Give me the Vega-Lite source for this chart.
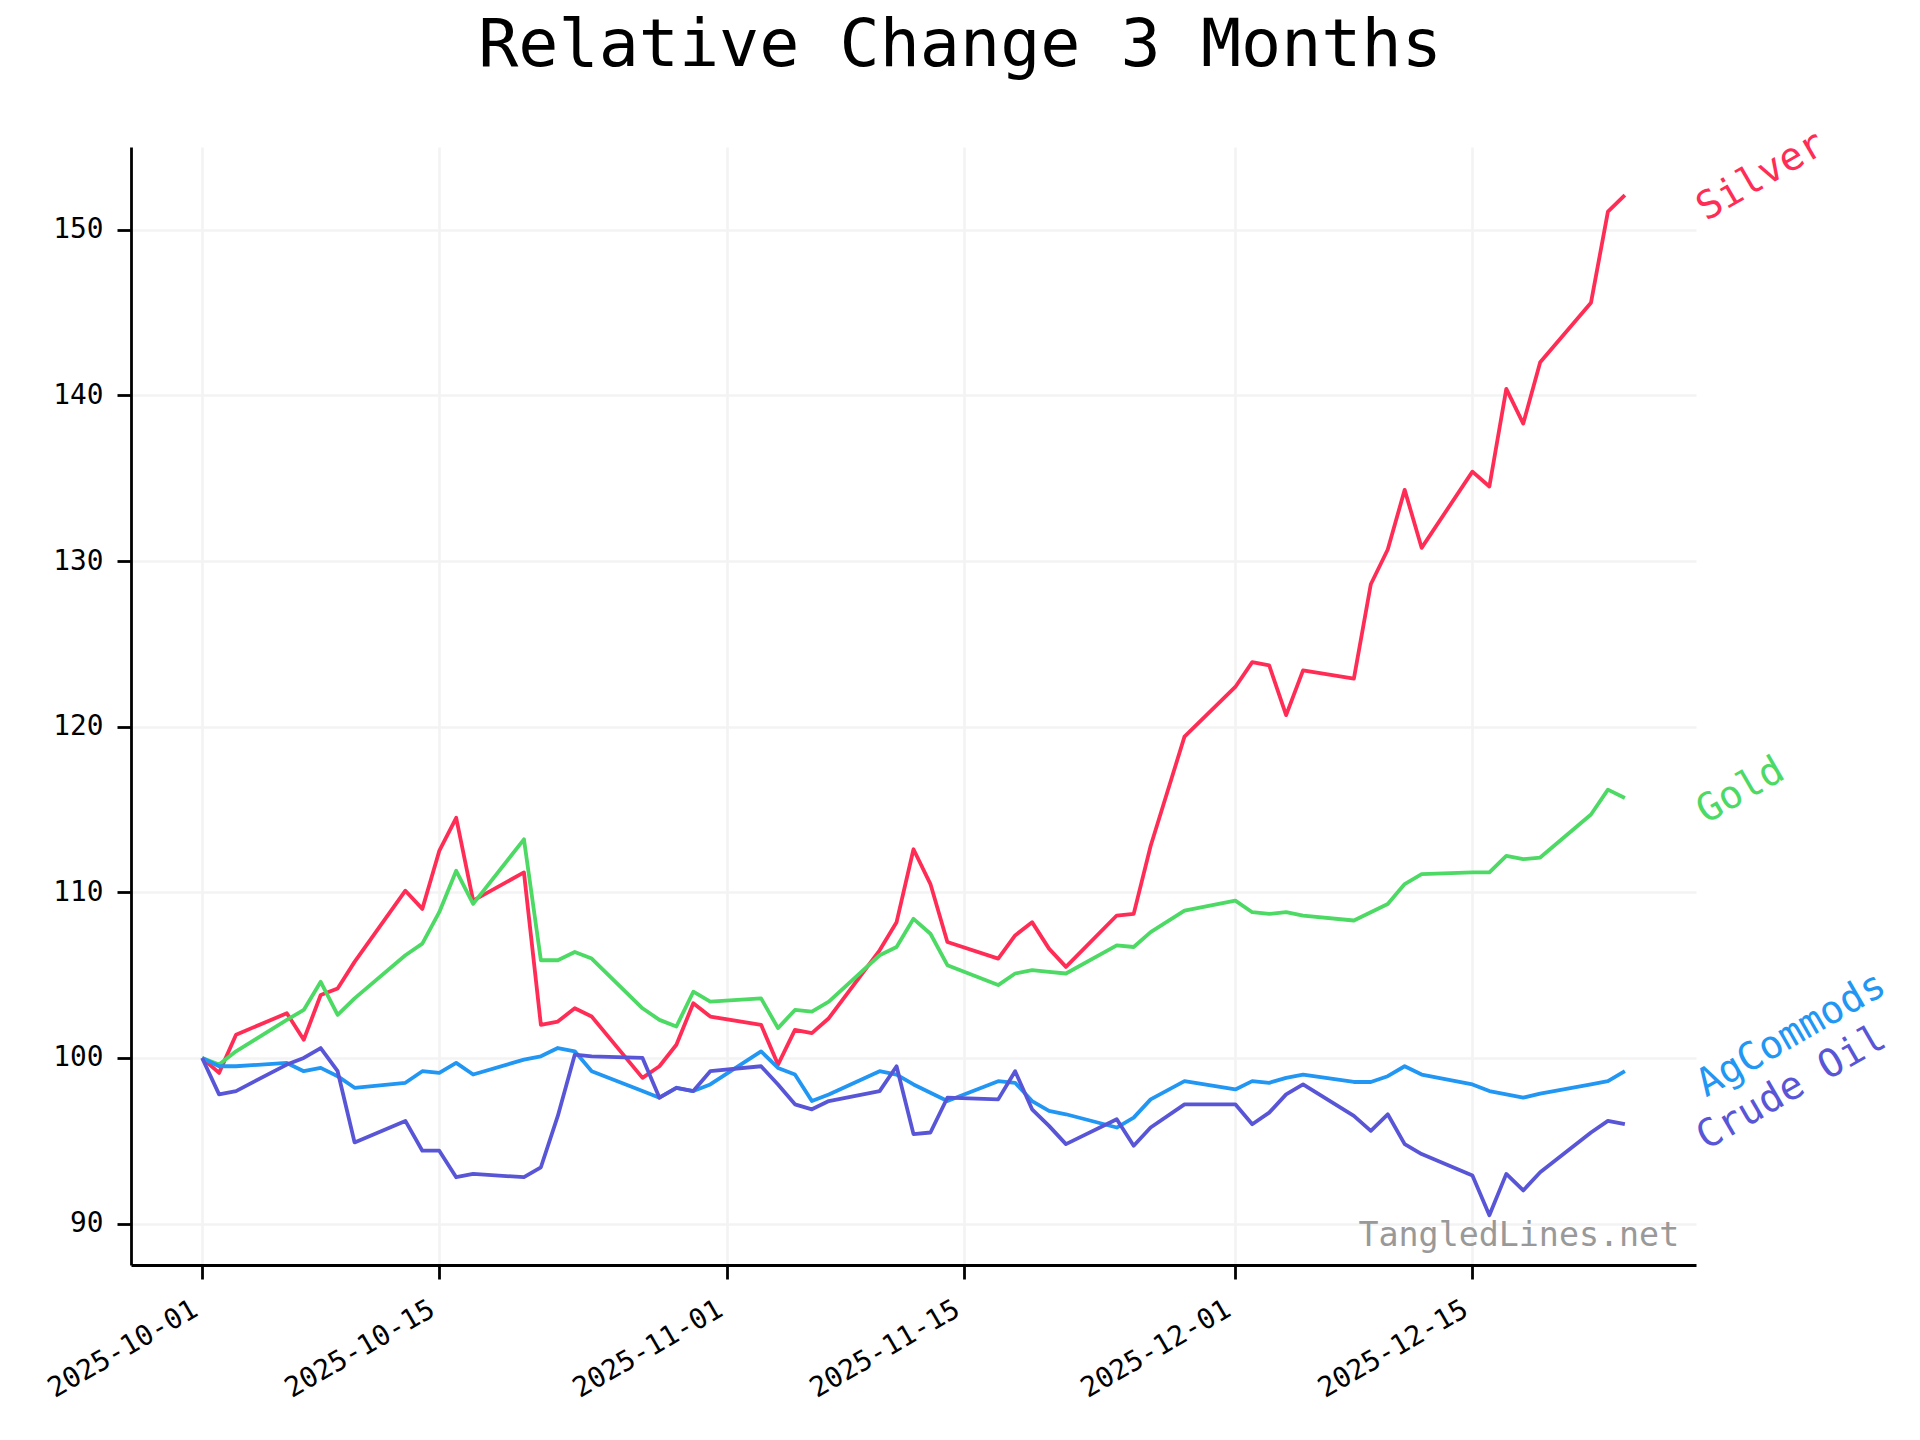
{
  "$schema": "https://vega.github.io/schema/vega-lite/v6.json",
  "width": 1565,
  "height": 1118,
  "autosize": {"type": "none"},
  "padding": {"left": 131, "top": 147, "right": 224, "bottom": 175},
  "background": "white",
  "title": {
    "text": "Relative Change 3 Months",
    "font": "DejaVu Sans Mono",
    "fontSize": 66.7,
    "fontWeight": "normal",
    "color": "black",
    "anchor": "middle",
    "baseline": "alphabetic",
    "offset": 40,
    "dy": 48,
    "dx": 46.5
  },
  "config": {
    "font": "DejaVu Sans Mono",
    "view": {"stroke": null},
    "axis": {
      "labelFont": "DejaVu Sans Mono",
      "labelFontSize": 27.8,
      "labelColor": "black",
      "tickColor": "black",
      "tickWidth": 2.8,
      "tickSize": 14,
      "domainColor": "black",
      "domainWidth": 2.8,
      "gridColor": "#f3f3f3",
      "gridWidth": 2.6,
      "title": null
    }
  },
  "datasets": {
    "prices": [
      {"date": "2025-10-01", "series": "Silver", "value": 100.0},
      {"date": "2025-10-02", "series": "Silver", "value": 99.1},
      {"date": "2025-10-03", "series": "Silver", "value": 101.4},
      {"date": "2025-10-06", "series": "Silver", "value": 102.7},
      {"date": "2025-10-07", "series": "Silver", "value": 101.1},
      {"date": "2025-10-08", "series": "Silver", "value": 103.8},
      {"date": "2025-10-09", "series": "Silver", "value": 104.2},
      {"date": "2025-10-10", "series": "Silver", "value": 105.8},
      {"date": "2025-10-13", "series": "Silver", "value": 110.1},
      {"date": "2025-10-14", "series": "Silver", "value": 109.0},
      {"date": "2025-10-15", "series": "Silver", "value": 112.5},
      {"date": "2025-10-16", "series": "Silver", "value": 114.5},
      {"date": "2025-10-17", "series": "Silver", "value": 109.5},
      {"date": "2025-10-20", "series": "Silver", "value": 111.2},
      {"date": "2025-10-21", "series": "Silver", "value": 102.0},
      {"date": "2025-10-22", "series": "Silver", "value": 102.2},
      {"date": "2025-10-23", "series": "Silver", "value": 103.0},
      {"date": "2025-10-24", "series": "Silver", "value": 102.5},
      {"date": "2025-10-27", "series": "Silver", "value": 98.8},
      {"date": "2025-10-28", "series": "Silver", "value": 99.5},
      {"date": "2025-10-29", "series": "Silver", "value": 100.8},
      {"date": "2025-10-30", "series": "Silver", "value": 103.3},
      {"date": "2025-10-31", "series": "Silver", "value": 102.5},
      {"date": "2025-11-03", "series": "Silver", "value": 102.0},
      {"date": "2025-11-04", "series": "Silver", "value": 99.6},
      {"date": "2025-11-05", "series": "Silver", "value": 101.7},
      {"date": "2025-11-06", "series": "Silver", "value": 101.5},
      {"date": "2025-11-07", "series": "Silver", "value": 102.4},
      {"date": "2025-11-10", "series": "Silver", "value": 106.5},
      {"date": "2025-11-11", "series": "Silver", "value": 108.2},
      {"date": "2025-11-12", "series": "Silver", "value": 112.6},
      {"date": "2025-11-13", "series": "Silver", "value": 110.5},
      {"date": "2025-11-14", "series": "Silver", "value": 107.0},
      {"date": "2025-11-17", "series": "Silver", "value": 106.0},
      {"date": "2025-11-18", "series": "Silver", "value": 107.4},
      {"date": "2025-11-19", "series": "Silver", "value": 108.2},
      {"date": "2025-11-20", "series": "Silver", "value": 106.6},
      {"date": "2025-11-21", "series": "Silver", "value": 105.5},
      {"date": "2025-11-24", "series": "Silver", "value": 108.6},
      {"date": "2025-11-25", "series": "Silver", "value": 108.7},
      {"date": "2025-11-26", "series": "Silver", "value": 112.8},
      {"date": "2025-11-28", "series": "Silver", "value": 119.4},
      {"date": "2025-12-01", "series": "Silver", "value": 122.4},
      {"date": "2025-12-02", "series": "Silver", "value": 123.9},
      {"date": "2025-12-03", "series": "Silver", "value": 123.7},
      {"date": "2025-12-04", "series": "Silver", "value": 120.7},
      {"date": "2025-12-05", "series": "Silver", "value": 123.4},
      {"date": "2025-12-08", "series": "Silver", "value": 122.9},
      {"date": "2025-12-09", "series": "Silver", "value": 128.6},
      {"date": "2025-12-10", "series": "Silver", "value": 130.7},
      {"date": "2025-12-11", "series": "Silver", "value": 134.3},
      {"date": "2025-12-12", "series": "Silver", "value": 130.8},
      {"date": "2025-12-15", "series": "Silver", "value": 135.4},
      {"date": "2025-12-16", "series": "Silver", "value": 134.5},
      {"date": "2025-12-17", "series": "Silver", "value": 140.4},
      {"date": "2025-12-18", "series": "Silver", "value": 138.3},
      {"date": "2025-12-19", "series": "Silver", "value": 142.0},
      {"date": "2025-12-22", "series": "Silver", "value": 145.6},
      {"date": "2025-12-23", "series": "Silver", "value": 151.1},
      {"date": "2025-12-24", "series": "Silver", "value": 152.1},

      {"date": "2025-10-01", "series": "Gold", "value": 100.0},
      {"date": "2025-10-02", "series": "Gold", "value": 99.6},
      {"date": "2025-10-03", "series": "Gold", "value": 100.4},
      {"date": "2025-10-06", "series": "Gold", "value": 102.3},
      {"date": "2025-10-07", "series": "Gold", "value": 102.9},
      {"date": "2025-10-08", "series": "Gold", "value": 104.6},
      {"date": "2025-10-09", "series": "Gold", "value": 102.6},
      {"date": "2025-10-10", "series": "Gold", "value": 103.6},
      {"date": "2025-10-13", "series": "Gold", "value": 106.2},
      {"date": "2025-10-14", "series": "Gold", "value": 106.9},
      {"date": "2025-10-15", "series": "Gold", "value": 108.8},
      {"date": "2025-10-16", "series": "Gold", "value": 111.3},
      {"date": "2025-10-17", "series": "Gold", "value": 109.3},
      {"date": "2025-10-20", "series": "Gold", "value": 113.2},
      {"date": "2025-10-21", "series": "Gold", "value": 105.9},
      {"date": "2025-10-22", "series": "Gold", "value": 105.9},
      {"date": "2025-10-23", "series": "Gold", "value": 106.4},
      {"date": "2025-10-24", "series": "Gold", "value": 106.0},
      {"date": "2025-10-27", "series": "Gold", "value": 103.0},
      {"date": "2025-10-28", "series": "Gold", "value": 102.3},
      {"date": "2025-10-29", "series": "Gold", "value": 101.9},
      {"date": "2025-10-30", "series": "Gold", "value": 104.0},
      {"date": "2025-10-31", "series": "Gold", "value": 103.4},
      {"date": "2025-11-03", "series": "Gold", "value": 103.6},
      {"date": "2025-11-04", "series": "Gold", "value": 101.8},
      {"date": "2025-11-05", "series": "Gold", "value": 102.9},
      {"date": "2025-11-06", "series": "Gold", "value": 102.8},
      {"date": "2025-11-07", "series": "Gold", "value": 103.4},
      {"date": "2025-11-10", "series": "Gold", "value": 106.2},
      {"date": "2025-11-11", "series": "Gold", "value": 106.7},
      {"date": "2025-11-12", "series": "Gold", "value": 108.4},
      {"date": "2025-11-13", "series": "Gold", "value": 107.5},
      {"date": "2025-11-14", "series": "Gold", "value": 105.6},
      {"date": "2025-11-17", "series": "Gold", "value": 104.4},
      {"date": "2025-11-18", "series": "Gold", "value": 105.1},
      {"date": "2025-11-19", "series": "Gold", "value": 105.3},
      {"date": "2025-11-20", "series": "Gold", "value": 105.2},
      {"date": "2025-11-21", "series": "Gold", "value": 105.1},
      {"date": "2025-11-24", "series": "Gold", "value": 106.8},
      {"date": "2025-11-25", "series": "Gold", "value": 106.7},
      {"date": "2025-11-26", "series": "Gold", "value": 107.6},
      {"date": "2025-11-28", "series": "Gold", "value": 108.9},
      {"date": "2025-12-01", "series": "Gold", "value": 109.5},
      {"date": "2025-12-02", "series": "Gold", "value": 108.8},
      {"date": "2025-12-03", "series": "Gold", "value": 108.7},
      {"date": "2025-12-04", "series": "Gold", "value": 108.8},
      {"date": "2025-12-05", "series": "Gold", "value": 108.6},
      {"date": "2025-12-08", "series": "Gold", "value": 108.3},
      {"date": "2025-12-09", "series": "Gold", "value": 108.8},
      {"date": "2025-12-10", "series": "Gold", "value": 109.3},
      {"date": "2025-12-11", "series": "Gold", "value": 110.5},
      {"date": "2025-12-12", "series": "Gold", "value": 111.1},
      {"date": "2025-12-15", "series": "Gold", "value": 111.2},
      {"date": "2025-12-16", "series": "Gold", "value": 111.2},
      {"date": "2025-12-17", "series": "Gold", "value": 112.2},
      {"date": "2025-12-18", "series": "Gold", "value": 112.0},
      {"date": "2025-12-19", "series": "Gold", "value": 112.1},
      {"date": "2025-12-22", "series": "Gold", "value": 114.7},
      {"date": "2025-12-23", "series": "Gold", "value": 116.2},
      {"date": "2025-12-24", "series": "Gold", "value": 115.7},

      {"date": "2025-10-01", "series": "AgCommods", "value": 100.0},
      {"date": "2025-10-02", "series": "AgCommods", "value": 99.5},
      {"date": "2025-10-03", "series": "AgCommods", "value": 99.5},
      {"date": "2025-10-06", "series": "AgCommods", "value": 99.7},
      {"date": "2025-10-07", "series": "AgCommods", "value": 99.2},
      {"date": "2025-10-08", "series": "AgCommods", "value": 99.4},
      {"date": "2025-10-09", "series": "AgCommods", "value": 98.9},
      {"date": "2025-10-10", "series": "AgCommods", "value": 98.2},
      {"date": "2025-10-13", "series": "AgCommods", "value": 98.5},
      {"date": "2025-10-14", "series": "AgCommods", "value": 99.2},
      {"date": "2025-10-15", "series": "AgCommods", "value": 99.1},
      {"date": "2025-10-16", "series": "AgCommods", "value": 99.7},
      {"date": "2025-10-17", "series": "AgCommods", "value": 99.0},
      {"date": "2025-10-20", "series": "AgCommods", "value": 99.9},
      {"date": "2025-10-21", "series": "AgCommods", "value": 100.1},
      {"date": "2025-10-22", "series": "AgCommods", "value": 100.6},
      {"date": "2025-10-23", "series": "AgCommods", "value": 100.4},
      {"date": "2025-10-24", "series": "AgCommods", "value": 99.2},
      {"date": "2025-10-27", "series": "AgCommods", "value": 98.0},
      {"date": "2025-10-28", "series": "AgCommods", "value": 97.6},
      {"date": "2025-10-29", "series": "AgCommods", "value": 98.2},
      {"date": "2025-10-30", "series": "AgCommods", "value": 98.0},
      {"date": "2025-10-31", "series": "AgCommods", "value": 98.4},
      {"date": "2025-11-03", "series": "AgCommods", "value": 100.4},
      {"date": "2025-11-04", "series": "AgCommods", "value": 99.4},
      {"date": "2025-11-05", "series": "AgCommods", "value": 99.0},
      {"date": "2025-11-06", "series": "AgCommods", "value": 97.4},
      {"date": "2025-11-07", "series": "AgCommods", "value": 97.8},
      {"date": "2025-11-10", "series": "AgCommods", "value": 99.2},
      {"date": "2025-11-11", "series": "AgCommods", "value": 99.0},
      {"date": "2025-11-12", "series": "AgCommods", "value": 98.4},
      {"date": "2025-11-13", "series": "AgCommods", "value": 97.9},
      {"date": "2025-11-14", "series": "AgCommods", "value": 97.4},
      {"date": "2025-11-17", "series": "AgCommods", "value": 98.6},
      {"date": "2025-11-18", "series": "AgCommods", "value": 98.5},
      {"date": "2025-11-19", "series": "AgCommods", "value": 97.4},
      {"date": "2025-11-20", "series": "AgCommods", "value": 96.8},
      {"date": "2025-11-21", "series": "AgCommods", "value": 96.6},
      {"date": "2025-11-24", "series": "AgCommods", "value": 95.8},
      {"date": "2025-11-25", "series": "AgCommods", "value": 96.4},
      {"date": "2025-11-26", "series": "AgCommods", "value": 97.5},
      {"date": "2025-11-28", "series": "AgCommods", "value": 98.6},
      {"date": "2025-12-01", "series": "AgCommods", "value": 98.1},
      {"date": "2025-12-02", "series": "AgCommods", "value": 98.6},
      {"date": "2025-12-03", "series": "AgCommods", "value": 98.5},
      {"date": "2025-12-04", "series": "AgCommods", "value": 98.8},
      {"date": "2025-12-05", "series": "AgCommods", "value": 99.0},
      {"date": "2025-12-08", "series": "AgCommods", "value": 98.55},
      {"date": "2025-12-09", "series": "AgCommods", "value": 98.55},
      {"date": "2025-12-10", "series": "AgCommods", "value": 98.9},
      {"date": "2025-12-11", "series": "AgCommods", "value": 99.5},
      {"date": "2025-12-12", "series": "AgCommods", "value": 99.0},
      {"date": "2025-12-15", "series": "AgCommods", "value": 98.4},
      {"date": "2025-12-16", "series": "AgCommods", "value": 98.0},
      {"date": "2025-12-17", "series": "AgCommods", "value": 97.8},
      {"date": "2025-12-18", "series": "AgCommods", "value": 97.6},
      {"date": "2025-12-19", "series": "AgCommods", "value": 97.85},
      {"date": "2025-12-22", "series": "AgCommods", "value": 98.4},
      {"date": "2025-12-23", "series": "AgCommods", "value": 98.6},
      {"date": "2025-12-24", "series": "AgCommods", "value": 99.2},

      {"date": "2025-10-01", "series": "Crude Oil", "value": 100.0},
      {"date": "2025-10-02", "series": "Crude Oil", "value": 97.8},
      {"date": "2025-10-03", "series": "Crude Oil", "value": 98.0},
      {"date": "2025-10-06", "series": "Crude Oil", "value": 99.6},
      {"date": "2025-10-07", "series": "Crude Oil", "value": 100.0},
      {"date": "2025-10-08", "series": "Crude Oil", "value": 100.6},
      {"date": "2025-10-09", "series": "Crude Oil", "value": 99.2},
      {"date": "2025-10-10", "series": "Crude Oil", "value": 94.9},
      {"date": "2025-10-13", "series": "Crude Oil", "value": 96.2},
      {"date": "2025-10-14", "series": "Crude Oil", "value": 94.4},
      {"date": "2025-10-15", "series": "Crude Oil", "value": 94.4},
      {"date": "2025-10-16", "series": "Crude Oil", "value": 92.8},
      {"date": "2025-10-17", "series": "Crude Oil", "value": 93.0},
      {"date": "2025-10-20", "series": "Crude Oil", "value": 92.8},
      {"date": "2025-10-21", "series": "Crude Oil", "value": 93.4},
      {"date": "2025-10-22", "series": "Crude Oil", "value": 96.5},
      {"date": "2025-10-23", "series": "Crude Oil", "value": 100.2},
      {"date": "2025-10-24", "series": "Crude Oil", "value": 100.1},
      {"date": "2025-10-27", "series": "Crude Oil", "value": 100.0},
      {"date": "2025-10-28", "series": "Crude Oil", "value": 97.6},
      {"date": "2025-10-29", "series": "Crude Oil", "value": 98.2},
      {"date": "2025-10-30", "series": "Crude Oil", "value": 98.0},
      {"date": "2025-10-31", "series": "Crude Oil", "value": 99.2},
      {"date": "2025-11-03", "series": "Crude Oil", "value": 99.5},
      {"date": "2025-11-04", "series": "Crude Oil", "value": 98.4},
      {"date": "2025-11-05", "series": "Crude Oil", "value": 97.2},
      {"date": "2025-11-06", "series": "Crude Oil", "value": 96.9},
      {"date": "2025-11-07", "series": "Crude Oil", "value": 97.4},
      {"date": "2025-11-10", "series": "Crude Oil", "value": 98.0},
      {"date": "2025-11-11", "series": "Crude Oil", "value": 99.5},
      {"date": "2025-11-12", "series": "Crude Oil", "value": 95.4},
      {"date": "2025-11-13", "series": "Crude Oil", "value": 95.5},
      {"date": "2025-11-14", "series": "Crude Oil", "value": 97.6},
      {"date": "2025-11-17", "series": "Crude Oil", "value": 97.5},
      {"date": "2025-11-18", "series": "Crude Oil", "value": 99.2},
      {"date": "2025-11-19", "series": "Crude Oil", "value": 96.9},
      {"date": "2025-11-20", "series": "Crude Oil", "value": 95.9},
      {"date": "2025-11-21", "series": "Crude Oil", "value": 94.8},
      {"date": "2025-11-24", "series": "Crude Oil", "value": 96.3},
      {"date": "2025-11-25", "series": "Crude Oil", "value": 94.7},
      {"date": "2025-11-26", "series": "Crude Oil", "value": 95.8},
      {"date": "2025-11-28", "series": "Crude Oil", "value": 97.2},
      {"date": "2025-12-01", "series": "Crude Oil", "value": 97.2},
      {"date": "2025-12-02", "series": "Crude Oil", "value": 96.0},
      {"date": "2025-12-03", "series": "Crude Oil", "value": 96.7},
      {"date": "2025-12-04", "series": "Crude Oil", "value": 97.8},
      {"date": "2025-12-05", "series": "Crude Oil", "value": 98.4},
      {"date": "2025-12-08", "series": "Crude Oil", "value": 96.5},
      {"date": "2025-12-09", "series": "Crude Oil", "value": 95.6},
      {"date": "2025-12-10", "series": "Crude Oil", "value": 96.6},
      {"date": "2025-12-11", "series": "Crude Oil", "value": 94.8},
      {"date": "2025-12-12", "series": "Crude Oil", "value": 94.2},
      {"date": "2025-12-15", "series": "Crude Oil", "value": 92.9},
      {"date": "2025-12-16", "series": "Crude Oil", "value": 90.5},
      {"date": "2025-12-17", "series": "Crude Oil", "value": 93.0},
      {"date": "2025-12-18", "series": "Crude Oil", "value": 92.0},
      {"date": "2025-12-19", "series": "Crude Oil", "value": 93.1},
      {"date": "2025-12-22", "series": "Crude Oil", "value": 95.5},
      {"date": "2025-12-23", "series": "Crude Oil", "value": 96.2},
      {"date": "2025-12-24", "series": "Crude Oil", "value": 96.0}
    ],
    "labels": [
      {"date": "2025-12-24", "series": "Silver", "value": 152.1},
      {"date": "2025-12-24", "series": "Gold", "value": 115.7},
      {"date": "2025-12-24", "series": "AgCommods", "value": 99.2},
      {"date": "2025-12-24", "series": "Crude Oil", "value": 96.0}
    ],
    "watermark": [
      {"text": "TangledLines.net"}
    ]
  },
  "layer": [
    {
      "data": {"name": "prices"},
      "mark": {"type": "line", "strokeWidth": 3.8, "strokeJoin": "round"},
      "encoding": {
        "x": {
          "field": "date",
          "type": "temporal",
          "scale": {
            "type": "utc",
            "domain": [
              {"year": 2025, "month": 9, "date": 26, "hours": 19, "minutes": 12, "utc": true},
              {"year": 2025, "month": 12, "date": 28, "hours": 4, "minutes": 48, "utc": true}
            ]
          },
          "axis": {
            "values": [
              {"year": 2025, "month": 10, "date": 1, "utc": true},
              {"year": 2025, "month": 10, "date": 15, "utc": true},
              {"year": 2025, "month": 11, "date": 1, "utc": true},
              {"year": 2025, "month": 11, "date": 15, "utc": true},
              {"year": 2025, "month": 12, "date": 1, "utc": true},
              {"year": 2025, "month": 12, "date": 15, "utc": true}
            ],
            "labelExpr": "utcFormat(datum.value, '%Y-%m-%d')",
            "labelAngle": -30,
            "labelAlign": "right",
            "labelBaseline": "top",
            "labelPadding": 16,
            "labelOffset": -14,
            "labelOverlap": false,
            "labelFlush": false,
            "grid": true
          }
        },
        "y": {
          "field": "value",
          "type": "quantitative",
          "scale": {"domain": [87.5, 155.0], "nice": false, "zero": false},
          "axis": {
            "values": [90, 100, 110, 120, 130, 140, 150],
            "labelPadding": 14,
            "labelBaseline": "middle",
            "grid": true
          }
        },
        "color": {
          "field": "series",
          "type": "nominal",
          "scale": {
            "domain": ["Silver", "Gold", "AgCommods", "Crude Oil"],
            "range": ["#FF2D55", "#4CD964", "#2196F3", "#5856D6"]
          },
          "legend": null
        }
      }
    },
    {
      "data": {"name": "labels"},
      "mark": {
        "type": "text",
        "angle": 330,
        "align": "left",
        "baseline": "middle",
        "dx": 57,
        "dy": 51.4,
        "font": "DejaVu Sans Mono",
        "fontSize": 38.9
      },
      "encoding": {
        "x": {"field": "date", "type": "temporal"},
        "y": {"field": "value", "type": "quantitative"},
        "text": {"field": "series"},
        "color": {"field": "series", "type": "nominal", "legend": null}
      }
    },
    {
      "data": {"name": "watermark"},
      "mark": {
        "type": "text",
        "align": "right",
        "baseline": "alphabetic",
        "font": "DejaVu Sans Mono",
        "fontSize": 33.3,
        "color": "#999999"
      },
      "encoding": {
        "x": {"datum": {"year": 2025, "month": 12, "date": 27, "hours": 5, "utc": true}, "type": "temporal"},
        "y": {"datum": 88.63, "type": "quantitative"},
        "text": {"field": "text"}
      }
    }
  ]
}
